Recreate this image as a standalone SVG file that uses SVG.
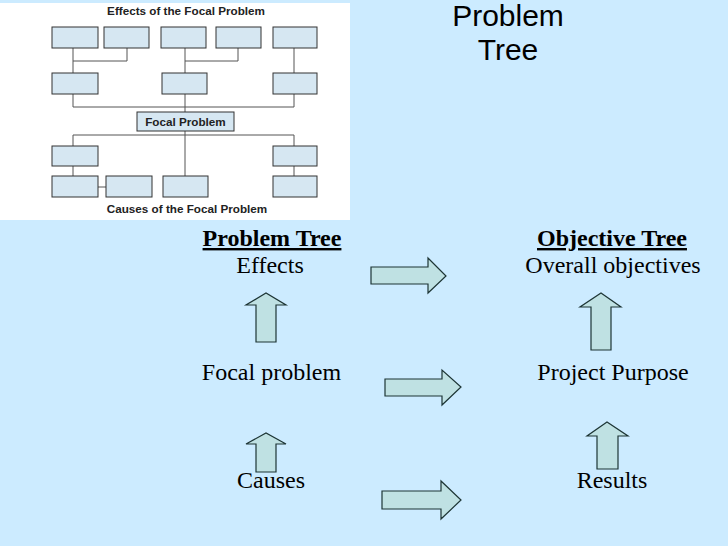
<svg xmlns="http://www.w3.org/2000/svg" width="728" height="546" viewBox="0 0 728 546">
<style>
.bx{fill:#d6e7f2;stroke:#333;stroke-width:1}
.ln{fill:none;stroke:#555;stroke-width:1}
.it{font-family:"Liberation Sans",Arial,sans-serif;font-weight:bold;font-size:11.7px;fill:#222;text-anchor:middle}
.ar{fill:#bfe1e3;stroke:#1d3535;stroke-width:1.2;stroke-linejoin:miter}
.lb{font-family:"Liberation Serif","Times New Roman",serif;font-size:24px;fill:#000;text-anchor:middle}
.hd{font-weight:bold;text-decoration:underline}
</style>
<rect width="728" height="546" fill="#ccebff"/>
<g id="inset">
<rect x="0" y="3" width="350" height="217" fill="#fff"/>
<text class="it" x="186" y="15">Effects of the Focal Problem</text>
<g class="ln">
<path d="M73 48V73M73 61H127V48M185 48V73M185 61H238V48M294 48V73"/>
<path d="M73 94V107H294V94M185 94V112"/>
<path d="M73 146V135H294V146M185 131V176"/>
<path d="M73 166V176M98 187H106M294 166V176"/>
</g>
<rect class="bx" x="52" y="27" width="46" height="21"/>
<rect class="bx" x="104" y="27" width="45" height="21"/>
<rect class="bx" x="161" y="27" width="45" height="21"/>
<rect class="bx" x="216" y="27" width="45" height="21"/>
<rect class="bx" x="273" y="27" width="44" height="21"/>
<rect class="bx" x="52" y="73" width="46" height="21"/>
<rect class="bx" x="162" y="73" width="45" height="21"/>
<rect class="bx" x="273" y="73" width="44" height="21"/>
<rect class="bx" x="137" y="112" width="97" height="19"/>
<text class="it" x="185.5" y="125.5">Focal Problem</text>
<rect class="bx" x="52" y="146" width="46" height="20"/>
<rect class="bx" x="273" y="146" width="44" height="20"/>
<rect class="bx" x="52" y="176" width="46" height="21"/>
<rect class="bx" x="106" y="176" width="46" height="21"/>
<rect class="bx" x="163" y="176" width="45" height="21"/>
<rect class="bx" x="273" y="176" width="44" height="21"/>
<text class="it" x="187" y="213">Causes of the Focal Problem</text>
</g>
<g id="title">
<text x="508" y="26" font-family="Liberation Sans,Arial,sans-serif" font-size="30" text-anchor="middle" fill="#000">Problem</text>
<text x="508" y="60" font-family="Liberation Sans,Arial,sans-serif" font-size="30" text-anchor="middle" fill="#000">Tree</text>
</g>
<g id="labels">
<g id="problem-tree"><text class="lb hd" x="272" y="246">Problem Tree</text></g>
<g id="effects"><text class="lb" x="270" y="273">Effects</text></g>
<g id="objective-tree"><text class="lb hd" x="612" y="246">Objective Tree</text></g>
<g id="overall-objectives"><text class="lb" x="613" y="273">Overall objectives</text></g>
<g id="focal-problem"><text class="lb" x="271.5" y="380">Focal problem</text></g>
<g id="project-purpose"><text class="lb" x="613" y="380">Project Purpose</text></g>
<g id="causes"><text class="lb" x="271" y="488">Causes</text></g>
<g id="results"><text class="lb" x="612" y="488">Results</text></g>
</g>
<g id="connectors">
<path class="ar" d="M371 267H428V258L446 276L428 293V284H371Z"/>
<path class="ar" d="M385 379H442V370L461 387L442 405V396H385Z"/>
<path class="ar" d="M382 491H441V481L461 500L441 519V509H382Z"/>
<path class="ar" d="M256 342V305H246L266 293L286 305H276V342Z"/>
<path class="ar" d="M591 350V307H580L601 293L621 307H611V350Z"/>
<path class="ar" d="M256 472V444H246L266 433L286 444H276V472Z"/>
<path class="ar" d="M597 469V436H587L607 422L628 436H618V469Z"/>
</g>
</svg>
